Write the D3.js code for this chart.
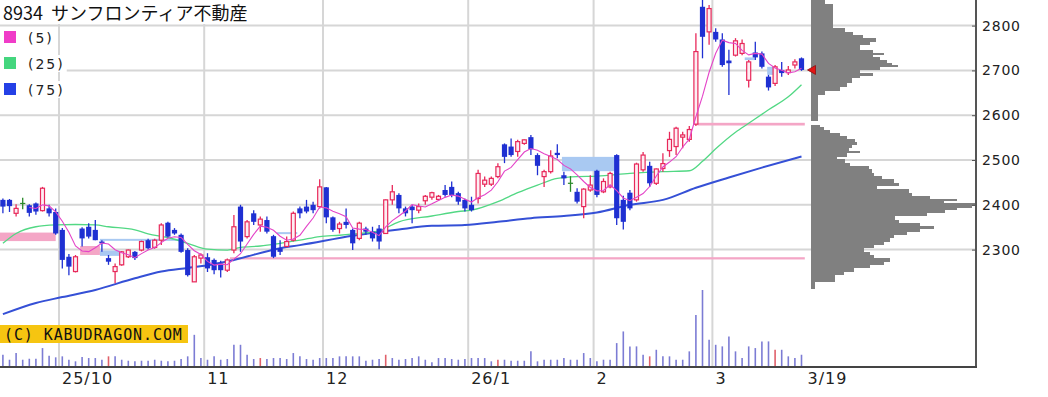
<!DOCTYPE html>
<html>
<head>
<meta charset="utf-8">
<script src="https://cdn.jsdelivr.net/npm/d3@7"></script>
<style>
body{margin:0;background:#fff;}
svg{display:block;}
</style>
</head>
<body>
<div id="chart"></div>
<script>
// trading days shown on the chart
var sepDays = [17,18,19,22,24,25,26,29,30];
var octDays = [1,2,3,6,7,8,9,10,14,15,16,17,20,21,22,23,24,27,28,29,30,31];
var novDays = [4,5,6,7,10,11,12,13,14,17,18,19,20,21,25,26,27,28];
var decDays = [1,2,3,4,5,8,9,10,11,12,15,16,17,18,19,22,23,24,25,26,29,30];
var janDays = [5,6,7,8,9,13,14,15,16,19,20,21,22,23,26,27,28,29,30];
var febDays = [2,3,4,5,6,9,10,12,13,16,17,18,19,20,24,25,26,27];
var marDays = [2,3,4,5,6,9,10,11,12,13,16,17,18,19];
var monthLabels = ["25/10","11","12","26/1","2","3"];
var lastLabel = "3/19";

var opens = [2411,2411,2381,2403,2399,2403,2387,2392,2384,2344, 2284,2251,2347,2351,2344,2318,2281,2251,2266,2284,
  2295,2299,2321,2305,2321,2360,2344,2333,2299,2228, 2281,2283,2277,2269,2254,2299,2396,2329,2381,2355,
  2366,2330,2303,2307,2321,2392,2396,2400,2396,2439, 2372,2347,2362,2344,2325,2347,2340,2347,2336,2411,
  2422,2392,2396,2388,2409,2417,2412,2433,2440,2426, 2411,2400,2414,2446,2446,2463,2535,2530,2519,2537,
  2551,2511,2463,2474,2516,2466,2448,2429,2396,2433, 2476,2429,2440,2511,2411,2427,2411,2478,2487,2448,
  2481,2521,2530,2551,2546,2580,2842,2786,2786,2769, 2722,2734,2738,2678,2740,2738,2686,2671,2701,2695,
  2712,2727];
var highs = [2414,2413,2401,2416,2401,2405,2440,2400,2392,2348, 2290,2288,2350,2359,2366,2321,2288,2269,2297,2300,
  2297,2320,2324,2324,2359,2362,2348,2336,2303,2288, 2292,2292,2280,2275,2280,2377,2400,2366,2388,2374,
  2374,2333,2321,2329,2385,2396,2411,2407,2457,2440, 2374,2362,2392,2347,2362,2351,2351,2355,2412,2444,
  2426,2396,2400,2403,2422,2429,2422,2444,2452,2429, 2414,2418,2478,2463,2463,2493,2537,2548,2545,2546,
  2556,2515,2478,2522,2535,2474,2464,2437,2437,2466, 2478,2459,2474,2513,2420,2433,2494,2518,2496,2481,
  2515,2563,2574,2563,2576,2783,2860,2846,2794,2783, 2746,2772,2769,2723,2764,2742,2690,2712,2719,2710,
  2725,2729];
var lows = [2381,2384,2374,2390,2374,2378,2385,2374,2333,2258, 2243,2249,2307,2325,2321,2295,2266,2225,2264,2281,
  2277,2296,2300,2302,2310,2327,2333,2293,2240,2228, 2269,2250,2245,2238,2250,2292,2295,2325,2355,2340,
  2336,2281,2288,2305,2318,2370,2381,2381,2392,2359, 2340,2336,2347,2299,2321,2333,2318,2301,2335,2400,
  2381,2374,2359,2381,2400,2411,2409,2418,2417,2400, 2385,2385,2403,2440,2442,2459,2493,2507,2507,2534,
  2511,2466,2440,2470,2504,2444,2429,2403,2370,2429, 2417,2426,2437,2355,2345,2388,2407,2474,2440,2444,
  2474,2507,2511,2526,2541,2576,2727,2757,2764,2708, 2645,2731,2734,2662,2723,2704,2655,2665,2686,2690,
  2704,2699];
var closes = [2396,2397,2392,2403,2382,2385,2437,2381,2336,2277, 2262,2284,2325,2329,2321,2314,2273,2262,2295,2299,
  2281,2318,2303,2321,2355,2329,2336,2295,2243,2284, 2288,2258,2254,2254,2277,2351,2318,2362,2362,2368,
  2340,2284,2295,2318,2381,2381,2385,2388,2440,2372, 2344,2357,2355,2314,2359,2340,2325,2318,2411,2429,
  2392,2381,2388,2396,2419,2427,2419,2422,2422,2407, 2392,2388,2470,2455,2459,2485,2507,2511,2541,2545,
  2524,2487,2474,2509,2511,2459,2448,2407,2435,2444, 2422,2452,2470,2370,2362,2392,2491,2511,2448,2480,
  2492,2546,2571,2556,2568,2742,2775,2838,2769,2712, 2716,2766,2760,2719,2729,2708,2662,2708,2694,2701,
  2719,2701];
// volume, thousand shares
var volumes = [123,73,140,73,83,83,190,113,97,107, 73,57,100,90,90,73,107,107,73,63,
  57,63,63,73,63,57,63,80,107,323, 90,73,107,73,80,223,223,123,80,90,
  80,90,90,80,140,107,80,73,90,90, 90,107,107,107,107,63,73,80,123,90,
  73,80,90,107,73,47,90,90,80,73, 80,90,90,90,57,73,73,63,63,63,
  157,57,73,73,73,90,73,73,140,90, 57,73,73,240,357,207,207,123,107,173,
  107,107,73,73,157,523,773,273,223,207, 307,157,90,207,190,257,257,173,173,107,
  90,123];
var redVolumeDays = [16,39,58,75,98,117];

// moving averages: [day index, price]
var ma25 = [[0,2314],[2,2336],[5,2351],[8,2355],[11,2356],[14,2355],[16,2351],[20,2344],[22,2335],[25,2327],
  [28,2314],[31,2301],[34,2299],[36,2305],[39,2308],[42,2314],[45,2321],[48,2329],[51,2332],[54,2336],
  [57,2342],[60,2362],[65,2375],[69,2385],[71,2388],[75,2407],[78,2427],[81,2444],[84,2459],[87,2463],
  [90,2464],[95,2470],[100,2474],[104,2476],[106,2497],[108,2525],[111,2562],[113,2582],[116,2612],
  [119,2641],[121,2668]];
var ma75 = [[0,2156],[5,2181],[9,2194],[14,2210],[20,2236],[24,2251],[28,2259],[31,2265],[35,2277],[42,2303],
  [45,2310],[53,2331],[60,2345],[65,2353],[70,2355],[75,2362],[80,2370],[85,2375],[90,2383],[95,2400],
  [100,2411],[105,2438],[110,2461],[115,2483],[121,2508]];

// open gaps: [from day, to day, low price, high price, type]
var gapZones = [[-1,8,2319,2338,"down"],[11.7,14.7,2288,2308,"down"],[14.7,17.7,2286,2298,"up"],
  [14.7,27.5,2321,2324,"up"],[34.4,121.5,2278,2283,"down"],[41.5,44.6,2336,2339,"up"],
  [84.7,92.7,2475,2507,"up"],[105.2,121.5,2577,2583,"down"],[112.4,113.9,2723,2729,"up"],
  [115.8,116.7,2690,2708,"up"]];

// price-by-volume profile: bin edges and volume per bin
var profileEdges = [2213,2228,2243,2251,2258,2266,2273,2281,2288,2295,2303,2310,2318,2325,2333,2340,2347,2353,2359,
  2366,2374,2381,2388,2392,2397,2403,2409,2414,2420,2427,2435,2442,2449,2457,2464,2472,2479,2487,2494,2502,
  2507,2515,2521,2526,2534,2541,2546,2554,2561,2567,2573,2578,2586,2645,2655,2662,2671,2682,2687,2695,2701,
  2707,2712,2717,2723,2731,2734,2738,2746,2757,2764,2772,2779,2786,2794,2848,2860];
var profileVols = [4,24,33,43,59,73,79,63,59,53,63,73,79,83,96,109,123,109,88,84,116,134,146,161,164,133,146,119,
  101,98,66,88,83,71,63,61,58,39,34,26,36,49,38,41,46,44,36,29,19,13,9,0,7,14,29,36,41,49,62,49,69,87,81,76,
  69,62,73,62,49,59,65,52,42,34,22,14];

var priceTicks = [2300,2400,2500,2600,2700,2800];
var legendItems = [{label:"(5)", color:"#f03cc8"},{label:"(25)", color:"#44d67e"},{label:"(75)", color:"#2440e6"}];

var width = 1048, height = 397;
var plotRight = 976, volBase = 367;

var dates = [].concat(
  sepDays.map(function(d){ return "2025-09-" + d; }),
  octDays.map(function(d){ return "2025-10-" + d; }),
  novDays.map(function(d){ return "2025-11-" + d; }),
  decDays.map(function(d){ return "2025-12-" + d; }),
  janDays.map(function(d){ return "2026-01-" + d; }),
  febDays.map(function(d){ return "2026-02-" + d; }),
  marDays.map(function(d){ return "2026-03-" + d; })
);
var monthStarts = [];
dates.forEach(function(d, i){
  if (i > 0 && d.slice(0,7) != dates[i-1].slice(0,7)) monthStarts.push(i);
});

var x = d3.scaleLinear().domain([0, dates.length - 1]).range([2.9, 801.5]);
var y = d3.scaleLinear().domain([2300, 2800]).range([249.6, 25.6]);
var yVol = d3.scaleLinear().domain([0, 780]).range([volBase, 289.3]);
var xProf = d3.scaleLinear().domain([0, 164]).range([811, 975]);

var svg = d3.select("#chart").append("svg")
  .attr("width", width).attr("height", height)
  .style("font-family", "'DejaVu Sans', sans-serif");

svg.append("clipPath").attr("id", "plot")
  .append("rect").attr("x", 0).attr("y", 0).attr("width", plotRight).attr("height", volBase);

// grid
svg.append("g").selectAll("line").data(priceTicks).enter().append("line")
  .attr("x1", 0).attr("x2", plotRight)
  .attr("y1", function(d){ return y(d); }).attr("y2", function(d){ return y(d); })
  .attr("stroke", "#d6d6d6").attr("stroke-width", 2);
svg.append("g").selectAll("line").data(monthStarts).enter().append("line")
  .attr("x1", function(d){ return x(d - 0.5); }).attr("x2", function(d){ return x(d - 0.5); })
  .attr("y1", 0).attr("y2", volBase)
  .attr("stroke", "#d6d6d6").attr("stroke-width", 2);

// volume profile
var bins = profileVols.map(function(v, k){ return {lo: profileEdges[k], hi: profileEdges[k+1], v: v}; });
svg.append("g").selectAll("rect").data(bins.filter(function(b){ return b.v > 0; })).enter().append("rect")
  .attr("x", xProf(0))
  .attr("y", function(b){ return y(b.hi); })
  .attr("width", function(b){ return xProf(b.v) - xProf(0); })
  .attr("height", function(b){ return y(b.lo) - y(b.hi); })
  .attr("fill", "#808080").attr("shape-rendering", "crispEdges");

var plot = svg.append("g").attr("clip-path", "url(#plot)");

// gap zones
plot.append("g").selectAll("rect").data(gapZones).enter().append("rect")
  .attr("x", function(d){ return x(d[0]); })
  .attr("width", function(d){ return x(d[1]) - x(d[0]); })
  .attr("y", function(d){ return y(d[3]); })
  .attr("height", function(d){ return Math.max(2, y(d[2]) - y(d[3])); })
  .attr("fill", function(d){ return d[4] == "down" ? "#f4a6c6" : "#a9c9f2"; });

// volume bars
plot.append("g").selectAll("line").data(volumes).enter().append("line")
  .attr("x1", function(d, i){ return x(i); }).attr("x2", function(d, i){ return x(i); })
  .attr("y1", yVol(0)).attr("y2", function(d){ return yVol(d); })
  .attr("stroke", function(d, i){ return redVolumeDays.indexOf(i) >= 0 ? "#e0606a" : "#7c7cd4"; })
  .attr("stroke-width", 1.6);

// moving averages
var maLine = d3.line().x(function(d){ return x(d[0]); }).y(function(d){ return y(d[1]); }).curve(d3.curveMonotoneX);
plot.append("path").datum(ma75).attr("d", maLine)
  .attr("fill", "none").attr("stroke", "#3550d6").attr("stroke-width", 2);
plot.append("path").datum(ma25).attr("d", maLine)
  .attr("fill", "none").attr("stroke", "#52d884").attr("stroke-width", 1.3);

var ma5 = [];
closes.forEach(function(c, i){
  if (i >= 4) ma5.push([i, d3.mean(closes.slice(i - 4, i + 1))]);
});

// candles
var candles = plot.append("g").selectAll("g").data(closes).enter().append("g");
candles.append("line")
  .attr("x1", function(d, i){ return x(i); }).attr("x2", function(d, i){ return x(i); })
  .attr("y1", function(d, i){ return y(highs[i]); }).attr("y2", function(d, i){ return y(lows[i]); })
  .attr("stroke", function(c, i){ return c > opens[i] ? "#e8285a" : (c < opens[i] ? "#1f30d2" : "#2a8a2a"); })
  .attr("stroke-width", 1.3);
candles.append("rect")
  .attr("x", function(d, i){ return c_up(i) ? x(i) - 2 : x(i) - 2.6; })
  .attr("width", function(d, i){ return c_up(i) ? 4 : 5.2; })
  .attr("y", function(c, i){ return y(Math.max(c, opens[i])) - (c == opens[i] ? 0.6 : 0); })
  .attr("height", function(c, i){ return Math.max(1.2, Math.abs(y(c) - y(opens[i]))); })
  .attr("fill", function(c, i){ return c > opens[i] ? "#fdeef3" : (c < opens[i] ? "#1f30d2" : "#2a8a2a"); })
  .attr("stroke", function(c, i){ return c > opens[i] ? "#e8285a" : "none"; })
  .attr("stroke-width", 1.2);
function c_up(i){ return closes[i] > opens[i]; }

plot.append("path").datum(ma5).attr("d", d3.line().x(function(d){ return x(d[0]); }).y(function(d){ return y(d[1]); }))
  .attr("fill", "none").attr("stroke", "#e444c8").attr("stroke-width", 1.1);

// last price marker
var lastI = closes.length - 1;
svg.append("path")
  .attr("d", "M" + (x(lastI) + 6) + "," + y(closes[lastI]) + "l8,-4.5l0,9z")
  .attr("fill", "#e41414").attr("stroke", "#8a1010").attr("stroke-width", 0.8);

// axes
svg.append("line").attr("x1", plotRight).attr("x2", plotRight).attr("y1", 0).attr("y2", volBase + 1)
  .attr("stroke", "#555").attr("stroke-width", 2);
svg.append("line").attr("x1", 0).attr("x2", plotRight + 1).attr("y1", volBase).attr("y2", volBase)
  .attr("stroke", "#444").attr("stroke-width", 2);

var yAxis = svg.append("g").attr("transform", "translate(" + plotRight + ",0)")
  .call(d3.axisRight(y).tickValues(priceTicks).tickSize(-4).tickPadding(6).tickFormat(d3.format("d")));
yAxis.select(".domain").remove();
yAxis.selectAll("line").attr("stroke", "#555");
yAxis.selectAll("text").attr("fill", "#222").style("font-size", "14px")
  .style("letter-spacing", "0.8px").style("font-family", "'DejaVu Sans', sans-serif");

svg.append("g").selectAll("text").data(monthStarts).enter().append("text")
  .attr("x", function(d){ return x(d - 0.5) + 3; }).attr("y", 384)
  .text(function(d, k){ return monthLabels[k]; })
  .attr("fill", "#222").style("font-size", "16px").style("letter-spacing", "1px");
svg.append("text").attr("x", x(lastI) + 6).attr("y", 384).text(lastLabel)
  .attr("fill", "#222").style("font-size", "16px").style("letter-spacing", "1px");

// copyright
svg.append("rect").attr("x", 0).attr("y", 325).attr("width", 188).attr("height", 18).attr("fill", "#f6c511");
svg.append("text").attr("x", 4).attr("y", 339.5).text("(C) KABUDRAGON.COM")
  .style("font-family", "'DejaVu Sans Mono', monospace").style("font-size", "15px")
  .style("letter-spacing", "0.9px").attr("fill", "#111");

// title
svg.append("rect").attr("x", 0).attr("y", 0).attr("width", 252).attr("height", 24).attr("fill", "#fff");
var title = svg.append("text").attr("x", 3).attr("y", 20)
  .style("font-family", "'Noto Sans CJK JP', sans-serif").style("font-size", "18px").attr("fill", "#111");
title.append("tspan").text("8934");
title.append("tspan").attr("x", 51).text("サンフロンティア不動産");

// legend
var leg = svg.append("g").selectAll("g").data(legendItems).enter().append("g")
  .attr("transform", function(d, k){ return "translate(0," + (31 + k * 26) + ")"; });
leg.append("rect").attr("class", "bg").attr("x", 0).attr("y", -2).attr("height", 17).attr("fill", "#fff");
leg.append("rect").attr("x", 4).attr("y", 0).attr("width", 12).attr("height", 12)
  .attr("fill", function(d){ return d.color; });
leg.append("text").attr("x", 28).attr("y", 11.5).text(function(d){ return d.label; })
  .style("font-size", "14px").style("letter-spacing", "2px").attr("fill", "#222");
leg.each(function(){
  var g = d3.select(this);
  var bb = g.select("text").node().getBBox();
  g.select("rect.bg").attr("width", bb.x + bb.width + 2);
});
</script>
</body>
</html>
